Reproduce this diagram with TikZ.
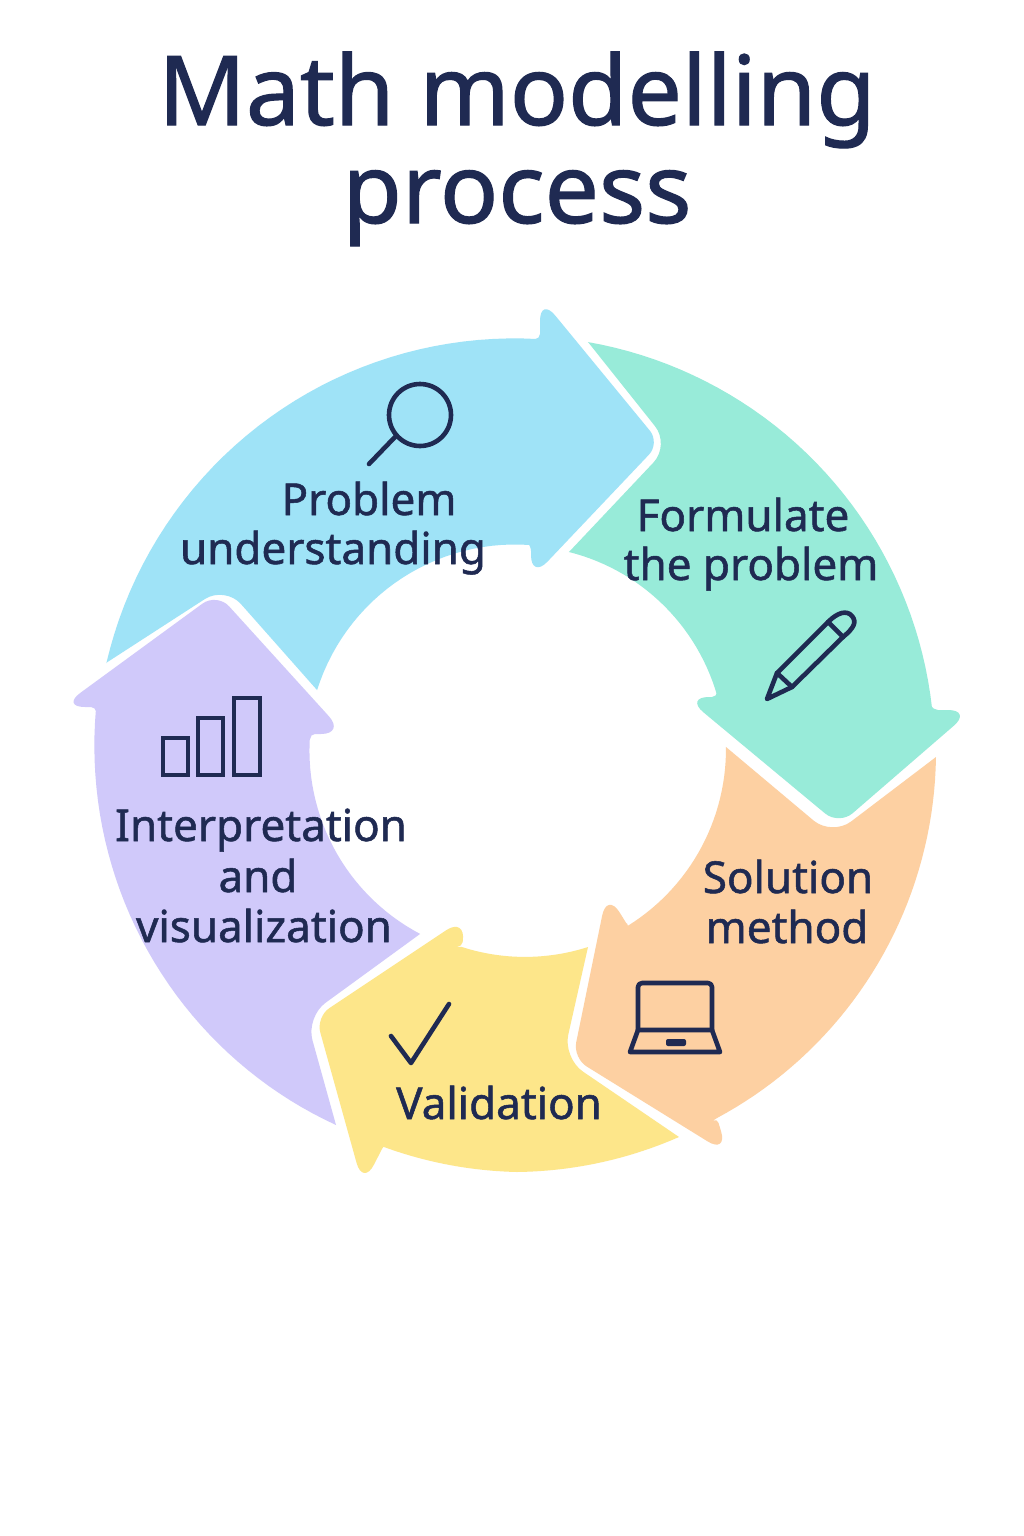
\documentclass[tikz,border=0pt]{standalone}
\usepackage{fontspec}
\setmainfont{Noto Sans}
\newfontfamily\medfont{Noto Sans}[FakeBold=1.2]
\definecolor{ink}{HTML}{1F2A52}
\definecolor{cblue}{HTML}{9FE3F7}
\definecolor{cgreen}{HTML}{98EBD9}
\definecolor{corange}{HTML}{FDD0A2}
\definecolor{cyellow}{HTML}{FDE68A}
\definecolor{cpurple}{HTML}{D0C9FA}
\tikzset{
  outerarc/.style n args={4}{insert path={-- plot[domain=#1:#2,samples=40] ({517+(#3+(#4-#3)*(\x-(#1))/(#2-(#1)))*cos(\x)},{756+(#3+(#4-#3)*(\x-(#1))/(#2-(#1)))*sin(\x)})}},
  innerarc/.style n args={4}{insert path={-- plot[domain=#1:#2,samples=30] ({517+(#3+(#4-#3)*(\x-(#1))/(#2-(#1)))*cos(\x)},{751+(#3+(#4-#3)*(\x-(#1))/(#2-(#1)))*sin(\x)})}},
  titletext/.style={anchor=base,text=ink,inner sep=0pt,font=\medfont\fontsize{96.5}{97}\selectfont},
  label/.style={anchor=base,text=ink,inner sep=0pt,font=\medfont\fontsize{44}{44}\selectfont},
  icon/.style={draw=ink,line width=4.6pt,line join=round,line cap=round},
}
\begin{document}
\begin{tikzpicture}[x=1pt,y=-1pt]
\useasboundingbox (0,0) rectangle (1024,1536);
\fill[white] (0,0) rectangle (1024,1536);
% blue
\fill[cblue] (106,663) [outerarc={192.75}{272.9}{421}{417.5}] [rounded corners=5] -- (540,339) [rounded corners=24] -- (540,297) [rounded corners=16] -- (660,443) [rounded corners=24] -- (531,579) [rounded corners=5] -- (531,546) [sharp corners] [innerarc={273.6}{197}{206.4}{209}] -- (317,690) [rounded corners=24] -- (225,586) [sharp corners] -- cycle;
% green
\fill[cgreen] (588,342) [outerarc={279.7}{353.4}{420}{417.8}] [rounded corners=5] -- (933,710) [rounded corners=24] -- (972,710) [rounded corners=18] -- (839,825) [rounded corners=24] -- (685,697) [rounded corners=5] -- (717,697) [sharp corners] [innerarc={344.4}{284.6}{207.7}{205.7}] -- (569,552) [rounded corners=24] -- (670,445) [sharp corners] -- cycle;
% orange
\fill[corange] (936,757) [outerarc={0.14}{61.1}{419}{413.6}] [rounded corners=5] -- (717,1118) [rounded corners=24] -- (728,1154) [rounded corners=16] -- (573,1058) [rounded corners=24] -- (607,892) [rounded corners=3] -- (628,926) [sharp corners] [innerarc={57.6}{-1.1}{207}{209}] -- (726,747) [rounded corners=24] -- (832,836) [sharp corners] -- cycle;
% yellow
\fill[cyellow] (679,1137) [outerarc={67}{90}{414}{416}] [outerarc={90}{108.9}{416}{413}] [rounded corners=3] -- (383,1147) [rounded corners=24] -- (363,1186) [rounded corners=16] -- (316,1017) [rounded corners=24] -- (466,917) [rounded corners=5] -- (462,947) [sharp corners] [innerarc={105.7}{70.1}{203.6}{208.5}] -- (588,947) [rounded corners=24] -- (563,1058) [sharp corners] -- cycle;
% purple
\fill[cpurple] (336,1125) [outerarc={116.1}{186.5}{411}{423.7}] [rounded corners=5] -- (96,707) [rounded corners=24] -- (61,707) [rounded corners=18] -- (217,593) [rounded corners=24] -- (345,734) [rounded corners=5] -- (310,734) [sharp corners] [innerarc={184.4}{117.9}{207.6}{207}] -- (420,934) [rounded corners=24] -- (306,1017) [sharp corners] -- cycle;
% title
\node[titletext] (t1) at (517,125) {Math modelling};
\node[titletext] (t2) at (517,223) {process};
% labels
\node[label] (l1a) at (369,515) {Problem};
\node[label] (l1b) at (333,564) {understanding};
\node[label] (l2a) at (743,531) {Formulate};
\node[label] (l2b) at (751,580) {the problem};
\node[label] (l3a) at (788,893) {Solution};
\node[label] (l3b) at (787,943) {method};
\node[label] (l4) at (499,1119) {Validation};
\node[label] (l5a) at (261,841) {Interpretation};
\node[label] (l5b) at (258,892) {and};
\node[label] (l5c) at (264,942) {visualization};
% magnifier
\draw[icon] (420,415) circle[radius=31];
\draw[icon] (395,437) -- (369,464);
% pencil
\draw[icon] (767,699) -- (777,673) -- (828,622) .. controls (838,612) and (847,610) .. (852,616) .. controls (857,622) and (854,628) .. (843,637) -- (792,687) -- cycle;
\draw[icon] (828,622) -- (843,637);
\draw[icon] (777,673) -- (792,687);
% laptop
\draw[icon,rounded corners=4] (638,1030) -- (638,983) -- (712,983) -- (712,1030);
\draw[icon] (638,1030) -- (712,1030) -- (720,1052) -- (630,1052) -- cycle;
\fill[ink,rounded corners=2] (666,1039) rectangle (686,1046);
% bars
\draw[icon,line cap=butt,line join=miter] (163,738) rectangle (188,775);
\draw[icon,line cap=butt,line join=miter] (198,718) rectangle (223,775);
\draw[icon,line cap=butt,line join=miter] (234,698) rectangle (260,775);
% check
\draw[icon] (391,1036) -- (411,1063) -- (449,1004);
\end{tikzpicture}
\end{document}
